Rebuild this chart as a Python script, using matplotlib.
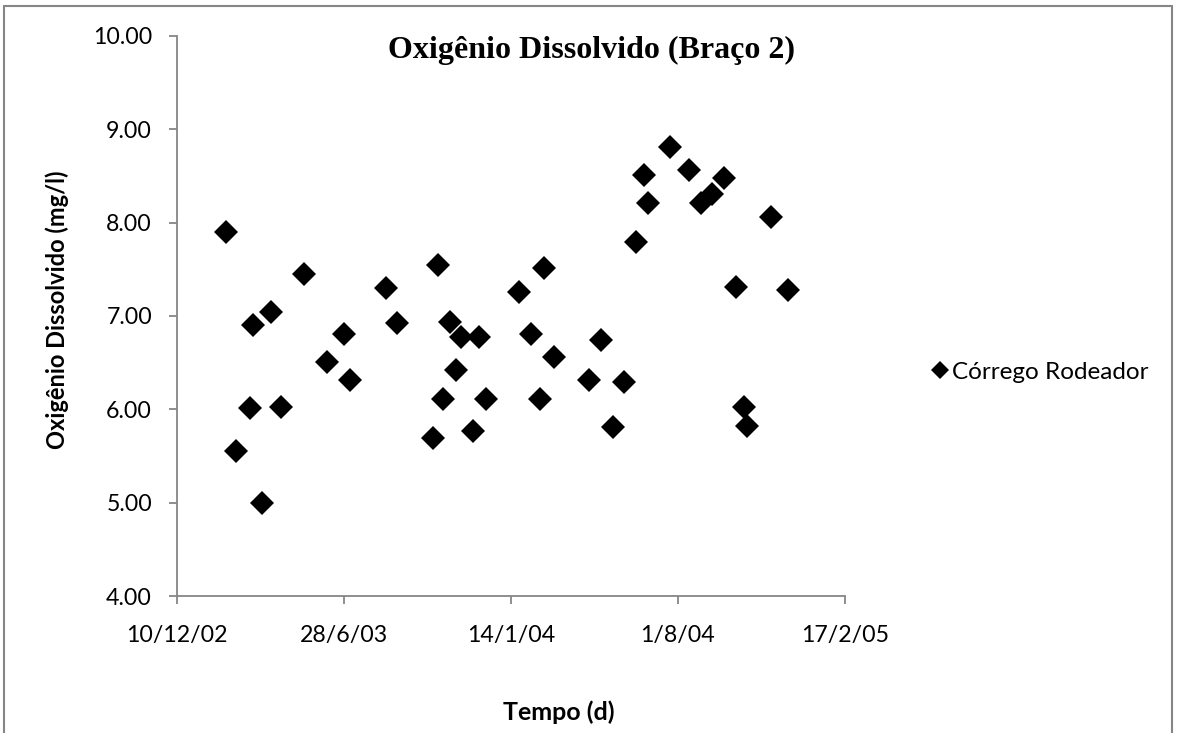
import matplotlib.pyplot as plt
import matplotlib.dates as mdates
from matplotlib.patches import Rectangle
import pandas as pd

# sampling dates and dissolved oxygen readings (mg/l)
datas = ['2003-02-07', '2003-02-19', '2003-03-08', '2003-03-11', '2003-03-22',
         '2003-04-02', '2003-04-13', '2003-05-11', '2003-06-08', '2003-06-28',
         '2003-07-05', '2003-08-17', '2003-08-31', '2003-10-12', '2003-10-19',
         '2003-10-25', '2003-11-02', '2003-11-09', '2003-11-15', '2003-11-30',
         '2003-12-07', '2003-12-15', '2004-01-24', '2004-02-07', '2004-02-18',
         '2004-02-22', '2004-03-06', '2004-04-17', '2004-05-01', '2004-05-15',
         '2004-05-28', '2004-06-12', '2004-06-21', '2004-06-26', '2004-07-23',
         '2004-08-14', '2004-08-28', '2004-09-11', '2004-09-25', '2004-10-10',
         '2004-10-19', '2004-10-23', '2004-11-20', '2004-12-11']
od = [7.90, 5.55, 6.01, 6.90, 5.00,
      7.04, 6.03, 7.45, 6.51, 6.81,
      6.31, 7.30, 6.92, 5.69, 7.55,
      6.11, 6.94, 6.42, 6.77, 5.77,
      6.77, 6.11, 7.26, 6.81, 6.11,
      7.51, 6.56, 6.31, 6.74, 5.81,
      6.29, 7.79, 8.51, 8.21, 8.81,
      8.56, 8.21, 8.31, 8.48, 7.31,
      6.02, 5.82, 8.06, 7.28]

x_ticks = ['2002-12-10', '2003-06-28', '2004-01-14', '2004-08-01', '2005-02-17']
y_ticks = [4, 5, 6, 7, 8, 9, 10]

datas = pd.to_datetime(datas)
x_ticks = pd.to_datetime(x_ticks)

cinza = '#868686'
fonte = 'Lato'


def rotulo_data(v, pos):
    d = mdates.num2date(v)
    return '%d/%d/%s' % (d.day, d.month, d.strftime('%y'))


fig = plt.figure(figsize=(11.77, 7.33), dpi=100)
ax = fig.add_axes([0.1504, 0.1869, 0.5675, 0.7640])

ax.plot(datas, od, linestyle='none', marker='D', markersize=12.5,
        color='black', markeredgewidth=0, label='Córrego Rodeador')

ax.set_xlim(x_ticks[0], x_ticks[-1])
ax.set_ylim(4, 10)
ax.set_xticks(x_ticks)
ax.xaxis.set_major_formatter(plt.FuncFormatter(rotulo_data))
ax.set_yticks(y_ticks)
ax.set_yticklabels(['%.2f' % v for v in y_ticks])

for lado in ['top', 'right']:
    ax.spines[lado].set_visible(False)
for lado in ['left', 'bottom']:
    ax.spines[lado].set_color(cinza)
    ax.spines[lado].set_linewidth(1.3)
ax.tick_params(direction='out', length=6, width=1.3, color=cinza,
               labelsize=16.7)
ax.tick_params(axis='y', pad=12)
ax.tick_params(axis='x', pad=15)
for lbl in ax.get_xticklabels() + ax.get_yticklabels():
    lbl.set_fontfamily(fonte)

ax.text(0.62, 0.975, 'Oxigênio Dissolvido (Braço 2)', transform=ax.transAxes,
        ha='center', va='center', fontsize=23, fontweight='bold',
        family='Liberation Serif')

fig.text(0.049, 0.578, 'Oxigênio Dissolvido (mg/l)', rotation=90,
         ha='center', va='center', fontsize=17, fontweight='bold', family=fonte)
fig.text(0.475, 0.029, 'Tempo (d)', ha='center', va='center',
         fontsize=18, fontweight='bold', family=fonte)

fig.legend(loc='center left', bbox_to_anchor=(0.771, 0.492), frameon=False,
           handletextpad=0.05, handlelength=0.9, markerscale=0.75,
           prop={'family': fonte, 'size': 17.5})

# chart area border
fig.patches.append(Rectangle((4 / 1177, -0.05), 1168 / 1177, 1.05 - 6 / 733,
                             transform=fig.transFigure, fill=False,
                             edgecolor=cinza, linewidth=1.5))

fig.savefig('out.png', dpi=100)
